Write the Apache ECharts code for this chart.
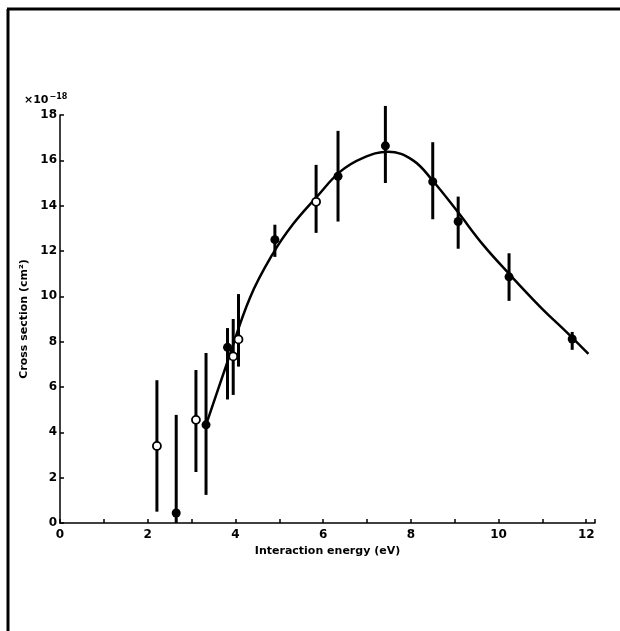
<!DOCTYPE html>
<html>
<head>
<meta charset="utf-8">
<style>html,body{margin:0;padding:0;background:#fff}#c{width:620px;height:631px}</style>
<script src="https://cdn.jsdelivr.net/npm/echarts@6/dist/echarts.min.js"></script>
</head>
<body>
<div id="c"></div>
<script>
// [energy (eV), cross section (1e-18 cm^2), error low, error high]
const solidPoints = [
  [2.65, 0.44, 0.0, 4.77],
  [3.33, 4.33, 1.24, 7.5],
  [3.82, 7.75, 5.45, 8.6],
  [4.9, 12.5, 11.74, 13.16],
  [6.34, 15.3, 13.3, 17.3],
  [7.42, 16.64, 15.0, 18.4],
  [8.5, 15.06, 13.4, 16.8],
  [9.08, 13.3, 12.1, 14.4],
  [10.24, 10.86, 9.8, 11.9],
  [11.68, 8.12, 7.64, 8.43]
];
const openPoints = [
  [2.21, 3.4, 0.5, 6.3],
  [3.1, 4.55, 2.25, 6.75],
  [3.95, 7.35, 5.65, 9.0],
  [4.07, 8.1, 6.9, 10.1],
  [5.84, 14.17, 12.8, 15.8]
];
const curvePoints = [
  [3.33, 4.33], [3.81, 7.06], [4.33, 9.93], [4.86, 11.9], [5.32, 13.2],
  [5.86, 14.4], [6.39, 15.5], [6.9, 16.1], [7.48, 16.38], [8.05, 16.0],
  [8.5, 15.1], [9.06, 13.75], [9.65, 12.27], [10.2, 11.08], [10.95, 9.54],
  [11.57, 8.39], [12.05, 7.46]
];
const xTickLabels = [0, 2, 4, 6, 8, 10, 12];
const yTickLabels = [0, 2, 4, 6, 8, 10, 12, 14, 16, 18];

const FONT = 'DejaVu Sans';
const chart = echarts.init(document.getElementById('c'));

function errRender(params, api) {
  const x = api.value(0), lo = api.value(2), hi = api.value(3);
  const p1 = api.coord([x, lo]), p2 = api.coord([x, hi]);
  return {type: 'line', shape: {x1: p1[0], y1: p1[1], x2: p2[0], y2: p2[1]},
          style: {stroke: '#000', lineWidth: 3}};
}

chart.setOption({
  animation: false,
  backgroundColor: '#fff',
  grid: {left: 60, right: 25, top: 115, bottom: 108},
  xAxis: {
    type: 'value', min: 0, max: 12.2, interval: 1,
    name: 'Interaction energy (eV)', nameLocation: 'middle', nameGap: 21,
    nameTextStyle: {color: '#000', fontFamily: FONT, fontWeight: 'bold', fontSize: 11},
    axisLine: {lineStyle: {color: '#000', width: 1.5}},
    axisTick: {inside: true, length: 4, lineStyle: {color: '#000', width: 1.5}},
    axisLabel: {color: '#000', fontFamily: FONT, fontWeight: 'bold', fontSize: 12, margin: 6,
      formatter: v => xTickLabels.indexOf(v) >= 0 ? String(v) : ''},
    splitLine: {show: false}
  },
  yAxis: {
    type: 'value', min: 0, max: 18, interval: 2,
    name: 'Cross section (cm²)', nameLocation: 'middle', nameGap: 27,
    nameTextStyle: {color: '#000', fontFamily: FONT, fontWeight: 'bold', fontSize: 11},
    axisLine: {lineStyle: {color: '#000', width: 1.5}},
    axisTick: {inside: true, length: 4, lineStyle: {color: '#000', width: 1.5}},
    axisLabel: {color: '#000', fontFamily: FONT, fontWeight: 'bold', fontSize: 12, margin: 3,
      formatter: v => yTickLabels.indexOf(v) >= 0 ? String(v) : ''},
    splitLine: {show: false}
  },
  graphic: [
    {type: 'line', shape: {x1: 7, y1: 9, x2: 620, y2: 9}, style: {stroke: '#000', lineWidth: 3}},
    {type: 'line', shape: {x1: 8, y1: 9, x2: 8, y2: 631}, style: {stroke: '#000', lineWidth: 3}},
    {type: 'text', left: 24, top: 93, style: {
      text: '{b|×10}{s|−18}', fill: '#000',
      rich: {
        b: {fontFamily: FONT, fontWeight: 'bold', fontSize: 11, fill: '#000'},
        s: {fontFamily: FONT, fontWeight: 'bold', fontSize: 8, fill: '#000', verticalAlign: 'top', padding: [0, 0, 6, 1]}
      }}}
  ],
  series: [
    {type: 'custom', renderItem: errRender, data: solidPoints, encode: {x: 0, y: [2, 3]}, z: 1},
    {type: 'custom', renderItem: errRender, data: openPoints, encode: {x: 0, y: [2, 3]}, z: 1},
    {type: 'line', data: curvePoints, smooth: 0.4, showSymbol: false, z: 2,
     lineStyle: {color: '#000', width: 2.5}},
    {type: 'scatter', data: solidPoints.map(p => [p[0], p[1]]), symbol: 'circle', symbolSize: 9, z: 3,
     itemStyle: {color: '#000', opacity: 1}},
    {type: 'scatter', data: openPoints.map(p => [p[0], p[1]]), symbol: 'circle', symbolSize: 8, z: 3,
     itemStyle: {color: '#fff', borderColor: '#000', borderWidth: 1.8, opacity: 1}}
  ]
});
</script>
</body>
</html>
